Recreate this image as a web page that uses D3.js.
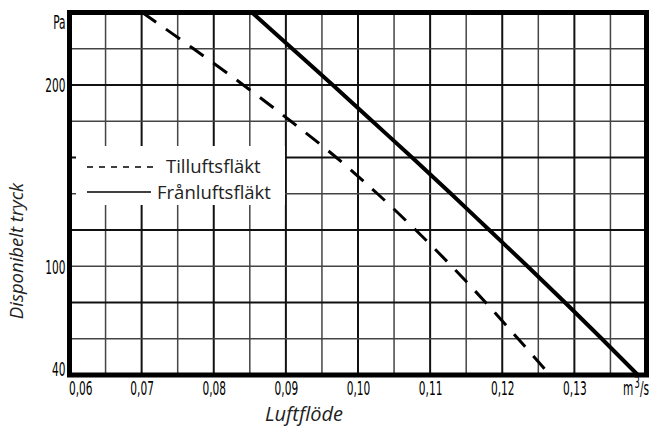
<!DOCTYPE html>
<html>
<head>
<meta charset="utf-8">
<script src="https://cdn.jsdelivr.net/npm/d3@7"></script>
<style>
  body { margin: 0; background: #fff; }
  .tick text { font-family: "Liberation Sans Narrow", "DejaVu Sans Condensed", sans-serif; }
</style>
</head>
<body>
<svg id="chart" width="649" height="427"></svg>
<script>
// pressure (Pa) at each horizontal grid line, flow (m3/s)
const pressure = [240, 220, 200, 180, 160, 140, 120, 100, 80, 60, 40];
const tilluft  = [0.0701, 0.0772, 0.0841, 0.0907, 0.0970, 0.1027, 0.1080, 0.1130, 0.1177, 0.1222, 0.1266];
const franluft = [0.0853, 0.0909, 0.0965, 0.1020, 0.1075, 0.1129, 0.1182, 0.1235, 0.1287, 0.1338, 0.1388];

const xTickLabels = [0.06, 0.07, 0.08, 0.09, 0.10, 0.11, 0.12, 0.13];
const yTickLabels = [240, 200, 100, 40];
const legendNames = ["Tilluftsfläkt", "Frånluftsfläkt"];

const width = 649, height = 427;
const margin = {top: 12.5, right: 2.5, bottom: 52, left: 69.5};
const svg = d3.select("#chart");

const x = d3.scaleLinear().domain([0.06, 0.14]).range([margin.left, width - margin.right]);
const y = d3.scaleLinear().domain([40, 240]).range([height - margin.bottom, margin.top]);

const sv = d3.formatLocale({decimal: ",", thousands: " ", grouping: [3], currency: ["", " kr"]});
const fmt = sv.format(".2f");
const sx = 0.62;
const narrow = `scale(${sx},1)`;
const tickFont = 19;

svg.append("rect").attr("width", width).attr("height", height).attr("fill", "#fff");

// grid
const xGrid = d3.range(1, 16).map(i => 0.06 + i * 0.005);
const yGrid = d3.range(60, 240, 20);
const isMajorX = v => Math.abs(Math.round(v * 100) - v * 100) < 1e-6;

svg.append("g").selectAll("line")
  .data(xGrid)
  .join("line")
    .attr("x1", d => x(d)).attr("x2", d => x(d))
    .attr("y1", y(240)).attr("y2", y(40))
    .attr("stroke", d => isMajorX(d) ? "#111" : "#444")
    .attr("stroke-width", d => isMajorX(d) ? 2 : 1.5);

svg.append("g").selectAll("line")
  .data(yGrid)
  .join("line")
    .attr("x1", x(0.06)).attr("x2", x(0.14))
    .attr("y1", d => y(d)).attr("y2", d => y(d))
    .attr("stroke", d => d % 40 === 0 ? "#111" : "#444")
    .attr("stroke-width", d => d % 40 === 0 ? 2 : 1.5);

// curves
svg.append("clipPath").attr("id", "plot")
  .append("rect")
    .attr("x", x(0.06)).attr("y", y(240))
    .attr("width", x(0.14) - x(0.06)).attr("height", y(40) - y(240));

const line = d3.line()
  .x(d => x(d[0]))
  .y(d => y(d[1]))
  .curve(d3.curveCatmullRom.alpha(0.5));

svg.append("path")
  .datum(d3.zip(tilluft, pressure))
  .attr("clip-path", "url(#plot)")
  .attr("fill", "none")
  .attr("stroke", "#000")
  .attr("stroke-width", 3)
  .attr("stroke-dasharray", "17,12")
  .attr("d", line);

svg.append("path")
  .datum(d3.zip(franluft, pressure))
  .attr("clip-path", "url(#plot)")
  .attr("fill", "none")
  .attr("stroke", "#000")
  .attr("stroke-width", 4)
  .attr("d", line);

// legend
const lg = svg.append("g");
lg.append("rect").attr("x", 76).attr("y", 146).attr("width", 209).attr("height", 59).attr("fill", "#fff");
lg.append("line").attr("x1", 87).attr("x2", 158).attr("y1", 167).attr("y2", 167)
  .attr("stroke", "#000").attr("stroke-width", 1.3).attr("stroke-dasharray", "6,6");
lg.append("line").attr("x1", 87).attr("x2", 151).attr("y1", 192).attr("y2", 192)
  .attr("stroke", "#000").attr("stroke-width", 1.3);
lg.selectAll("text")
  .data(legendNames)
  .join("text")
    .attr("x", (d, i) => i === 0 ? 166 : 157)
    .attr("y", (d, i) => i === 0 ? 173 : 199)
    .attr("font-family", "Open Sans, sans-serif")
    .attr("font-size", 18.5)
    .attr("fill", "#222")
    .text(d => d);

// frame
svg.append("rect")
  .attr("x", x(0.06)).attr("y", y(240))
  .attr("width", x(0.14) - x(0.06)).attr("height", y(40) - y(240))
  .attr("fill", "none").attr("stroke", "#000").attr("stroke-width", 5);

// axes
const xAxis = svg.append("g")
  .attr("transform", `translate(0,${y(40) + 3})`)
  .call(d3.axisBottom(x).tickValues(xTickLabels).tickSize(0).tickPadding(3).tickFormat(fmt));
xAxis.select(".domain").remove();
xAxis.selectAll("text")
  .attr("font-size", tickFont).attr("fill", "#000")
  .attr("text-anchor", (d, i) => i === 0 ? "start" : "middle")
  .attr("transform", (d, i) => i === 0 ? "translate(-1,0) " + narrow : narrow);

const yAxis = svg.append("g")
  .attr("transform", `translate(${x(0.06) - 4},0)`)
  .call(d3.axisLeft(y).tickValues(yTickLabels).tickSize(0).tickPadding(0)
    .tickFormat(d => d === 240 ? "Pa" : d));
yAxis.select(".domain").remove();
yAxis.selectAll("text")
  .attr("font-size", tickFont).attr("fill", "#000")
  .attr("dy", d => d === 240 ? "0.85em" : d === 40 ? "0.02em" : "0.36em")
  .attr("transform", narrow);

// unit label
const unit = svg.append("text")
  .attr("x", 623 / sx).attr("y", 395)
  .attr("font-family", "Liberation Sans Narrow, DejaVu Sans Condensed, sans-serif")
  .attr("font-size", tickFont)
  .attr("fill", "#000")
  .attr("transform", narrow);
unit.append("tspan").text("m");
unit.append("tspan").attr("dx", 2).attr("dy", -7).attr("font-size", 15).text("3");
unit.append("tspan").attr("dy", 7).text("/s");

// titles
svg.append("text")
  .attr("x", 304).attr("y", 421)
  .attr("text-anchor", "middle")
  .attr("font-family", "Open Sans, sans-serif")
  .attr("font-style", "italic")
  .attr("font-size", 20)
  .attr("fill", "#222")
  .text("Luftflöde");

svg.append("text")
  .attr("transform", "translate(23,251) rotate(-90)")
  .attr("text-anchor", "middle")
  .attr("font-family", "Open Sans, sans-serif")
  .attr("font-style", "italic")
  .attr("font-size", 18.5)
  .attr("fill", "#222")
  .text("Disponibelt tryck");
</script>
</body>
</html>
